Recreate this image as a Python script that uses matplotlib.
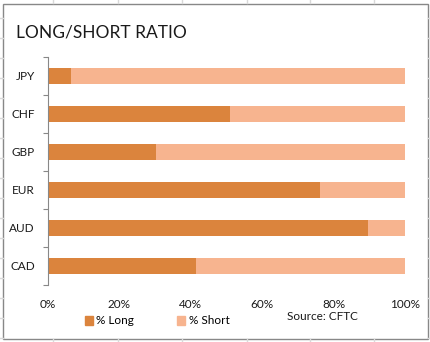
import numpy as np
import matplotlib
matplotlib.use('Agg')
import matplotlib.pyplot as plt
from matplotlib.lines import Line2D
from matplotlib.patches import Rectangle, Patch

plt.rcParams['font.family'] = ['Lato', 'DejaVu Sans']

currencies = ['JPY', 'CHF', 'GBP', 'EUR', 'AUD', 'CAD']
pct_long = [0.064, 0.510, 0.303, 0.762, 0.896, 0.415]
pct_short = [1 - v for v in pct_long]
xticks = [0, 0.2, 0.4, 0.6, 0.8, 1.0]
xtick_labels = ['0%', '20%', '40%', '60%', '80%', '100%']

c_long = '#DB843D'
c_short = '#F7B48F'

W, H = 431, 342
fig = plt.figure(figsize=(W / 100, H / 100), dpi=100)

def px(x, y):
    return x / W, 1 - y / H

# sheet cell grid behind the chart box
for gx in [53, 118, 182, 247, 310, 374]:
    for y0, y1 in [(0, 3), (339, 342)]:
        fig.add_artist(Line2D([gx / W] * 2, [1 - y0 / H, 1 - y1 / H], color='#d9d9d9', lw=1))
for gy in range(18, 342, 20):
    for x0, x1 in [(0, 3), (428, 431)]:
        fig.add_artist(Line2D([x0 / W, x1 / W], [1 - gy / H] * 2, color='#d9d9d9', lw=1))

fig.add_artist(Rectangle(px(3.5, 339), 424.5 / W, 335.5 / H, transform=fig.transFigure,
                         fill=False, edgecolor='#888888', lw=1))

ax = fig.add_axes([48 / W, 1 - 285 / H, 357 / W, 228 / H])
y = np.arange(len(currencies))
ax.barh(y, pct_long, height=0.4, color=c_long, label='% Long')
ax.barh(y, pct_short, left=pct_long, height=0.4, color=c_short, label='% Short')

ax.set_xlim(0, 1)
ax.set_ylim(len(currencies) - 0.5, -0.5)
ax.set_yticks(y)
ax.set_yticklabels(currencies)
ax.set_yticks(np.arange(-0.5, len(currencies)), minor=True)
ax.set_xticks(xticks)
ax.set_xticklabels(xtick_labels)
ax.tick_params(axis='y', which='major', length=0, pad=9.5, labelsize=8.5, colors='#1a1a1a')
ax.tick_params(axis='y', which='minor', length=3.6, width=0.8, color='#888888')
ax.tick_params(axis='x', length=0, pad=10, labelsize=8.5, colors='#1a1a1a')
for s in ['top', 'right', 'bottom']:
    ax.spines[s].set_visible(False)
ax.spines['left'].set_color('#888888')
ax.spines['left'].set_linewidth(0.8)

fig.text(16 / W, 1 - 33 / H, 'LONG/SHORT RATIO', fontsize=12.5, va='center', ha='left', color='#1a1a1a')

handles = [Patch(color=c_long), Patch(color=c_short)]
fig.legend(handles, ['% Long', '% Short'], ncol=2, frameon=False, fontsize=8.5,
           loc='center left', bbox_to_anchor=px(74, 321), handlelength=0.7, handleheight=0.7,
           handletextpad=0.3, columnspacing=3.6)
fig.text(287 / W, 1 - 317 / H, 'Source: CFTC', fontsize=8.5, va='center', ha='left', color='#1a1a1a')

fig.savefig('out.png', dpi=100, facecolor='white')
